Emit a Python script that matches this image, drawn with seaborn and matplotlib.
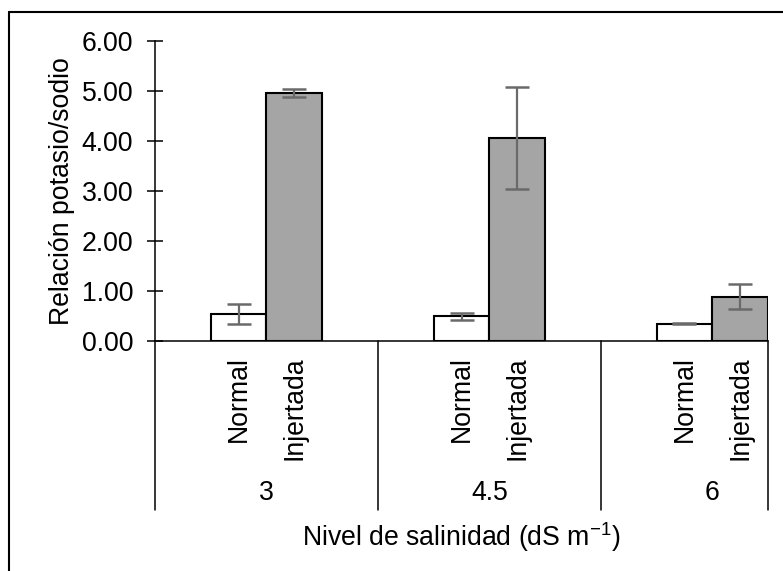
import matplotlib
matplotlib.use('Agg')
import matplotlib.pyplot as plt
import seaborn as sns
import pandas as pd
from matplotlib.lines import Line2D

# ---- data ----
salinity = ['3', '4.5', '6']
types = ['Normal', 'Injertada']
normal_vals = [0.54, 0.50, 0.35]
normal_err = [0.20, 0.07, 0.01]
injertada_vals = [4.96, 4.07, 0.89]
injertada_err = [0.08, 1.02, 0.25]
yticks = [0, 1, 2, 3, 4, 5, 6]
ylabel = 'Relación potasio/sodio'
xlabel = 'Nivel de salinidad (dS m$^{\\mathrm{-1}}$)'

df = pd.DataFrame({
    'Nivel': salinity * 2,
    'Tipo': ['Normal'] * 3 + ['Injertada'] * 3,
    'Valor': normal_vals + injertada_vals,
    'Error': normal_err + injertada_err,
})

sns.set_style('white')
plt.rcParams['font.family'] = ['Liberation Sans', 'DejaVu Sans']
plt.rcParams['mathtext.fontset'] = 'custom'
plt.rcParams['mathtext.rm'] = 'Liberation Sans'
plt.rcParams['mathtext.it'] = 'Liberation Sans'
plt.rcParams['mathtext.default'] = 'regular'
FS = 19.2

fig = plt.figure(figsize=(7.83, 5.71), dpi=100)
ax = fig.add_axes([155 / 783, 1 - 341 / 571, (768 - 155) / 783, 300 / 571])

sns.barplot(data=df, x='Nivel', y='Valor', hue='Tipo', order=salinity,
            hue_order=types, palette={'Normal': 'white', 'Injertada': '#a5a5a5'},
            edgecolor='black', linewidth=1.5, width=0.5, errorbar=None,
            legend=False, saturation=1, ax=ax)

# error bars at the bar centres
bars = [p for p in ax.patches if p.get_height() > 0]
bars.sort(key=lambda p: p.get_x())
errs = []
for i in range(len(salinity)):
    errs += [normal_err[i], injertada_err[i]]
centers = [p.get_x() + p.get_width() / 2 for p in bars]
heights = [p.get_height() for p in bars]
ax.errorbar(centers, heights, yerr=errs, fmt='none', ecolor='#6a6a6a',
            elinewidth=1.6, capsize=8.5, capthick=1.8, zorder=5)

ax.set_ylim(0, 6)
ax.set_xlim(-0.5, 2.25)
ax.set_yticks(yticks)
ax.set_yticklabels([f'{v:.2f}' for v in yticks])
ax.tick_params(axis='y', direction='inout', length=11.5, width=1.1, pad=10,
               labelsize=FS, color='black', labelcolor='black', left=True)
ax.tick_params(axis='x', bottom=False, labelbottom=False)
sns.despine(ax=ax)
for s in ['left', 'bottom']:
    ax.spines[s].set_color('black')
    ax.spines[s].set_linewidth(1.1)
ax.grid(False)

ax.set_ylabel(ylabel, fontsize=FS, color='black')
ax.yaxis.set_label_coords(-0.152, 0.5)
ax.yaxis.label.set_va('center')

ax.set_xlabel(xlabel, fontsize=FS, color='black')
ax.xaxis.set_label_coords(0.5, -0.655)
ax.xaxis.label.set_va('center')

# category labels under the bars
trans = ax.get_xaxis_transform()
for idx, c in enumerate(centers):
    ax.text(c, -0.05, types[idx % 2], rotation=90, ha='center', va='top',
            fontsize=FS, transform=trans, color='black')
for i, lab in enumerate(salinity):
    ax.text(i, -0.508, lab, ha='center', va='center', fontsize=FS,
            transform=trans, color='black')

# group separators
for xs in [-0.5, 0.5, 1.5, 2.25]:
    ax.plot([xs, xs], [0, -0.563], transform=trans, color='black', lw=1.1,
            clip_on=False)

# outer frame (left and top)
fx = 9 / 783
fy = 1 - 12 / 571
fig.add_artist(Line2D([fx, fx], [0, fy], transform=fig.transFigure, color='black', lw=1.5))
fig.add_artist(Line2D([fx, 1], [fy, fy], transform=fig.transFigure, color='black', lw=1.5))

fig.savefig('out.png', dpi=100)
